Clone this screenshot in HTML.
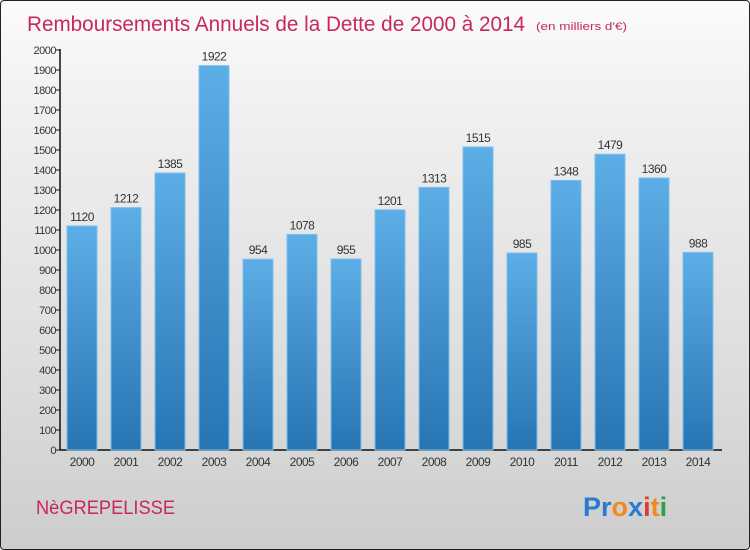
<!DOCTYPE html>
<html><head><meta charset="utf-8"><style>
body{margin:0;width:750px;height:550px;overflow:hidden;font-family:"Liberation Sans",sans-serif}
#wrap{position:absolute;left:0;top:0;width:748px;height:548px;border:1px solid #222;border-radius:4px;background:linear-gradient(#fbfbfb,#f0f0f0 20%,#dcdcdc 70%,#cdcdcd)}
</style></head><body>
<div id="wrap">
<svg width="750" height="550" style="position:absolute;left:-1px;top:-1px">
<defs><linearGradient id="bg" x1="0" y1="0" x2="0" y2="1"><stop offset="0" stop-color="#5dade6"/><stop offset="1" stop-color="#2775b3"/></linearGradient></defs>
<text x="27" y="31" font-size="21" fill="#c8285a" textLength="498" lengthAdjust="spacingAndGlyphs">Remboursements Annuels de la Dette de 2000 à 2014</text>
<text x="536" y="30" font-size="11" fill="#c8285a" textLength="91" lengthAdjust="spacingAndGlyphs">(en milliers d'€)</text>
<g id="axes"></g><g id="bars"></g>
<text x="36" y="514" font-size="19" fill="#c8285a" textLength="139" lengthAdjust="spacingAndGlyphs">NèGREPELISSE</text>
<text x="583" y="516" font-size="27" font-weight="bold"><tspan fill="#2a7ad0">Pr</tspan><tspan fill="#f08a1c">o</tspan><tspan fill="#2a7ad0">x</tspan><tspan fill="#e23b2a">i</tspan><tspan fill="#f08a1c">t</tspan><tspan fill="#2aa04a">i</tspan></text>
</svg></div>
<script>
const years=["2000","2001","2002","2003","2004","2005","2006","2007","2008","2009","2010","2011","2012","2013","2014"];
const values=[1120,1212,1385,1922,954,1078,955,1201,1313,1515,985,1348,1479,1360,988];
const ticks=[0,100,200,300,400,500,600,700,800,900,1000,1100,1200,1300,1400,1500,1600,1700,1800,1900,2000];
const NS="http://www.w3.org/2000/svg";
const x0=60,y0=450,yMax=2000,plotH=400,pitch=44,bw=30;
const y=v=>y0-v/yMax*plotH;
const xb=i=>x0+7+i*pitch;
function mk(t,a,p){const e=document.createElementNS(NS,t);for(const k in a)e.setAttribute(k,a[k]);p.appendChild(e);return e;}
const ax=document.getElementById('axes'),bg=document.getElementById('bars');
let l=mk('line',{x1:x0,y1:y(yMax)-1,x2:x0,y2:y0,stroke:'#111','stroke-width':1.5},ax);


l=mk('line',{x1:x0,y1:y0,x2:722,y2:y0,stroke:'#111','stroke-width':1.5},ax);


ticks.forEach(t=>{
 mk('line',{x1:x0-4,y1:y(t),x2:x0,y2:y(t),stroke:'#111'},ax);
 const tx=mk('text',{x:x0-4,y:y(t)+4,'font-size':11,fill:'#333','text-anchor':'end','letter-spacing':'-0.5'},ax);
 tx.textContent=t;
 
 
});
years.forEach((yr,i)=>{
 const r=mk('rect',{x:xb(i),y:y(values[i]),width:bw,height:y0-y(values[i]),fill:'url(#bg)',stroke:'#7cc0ee','stroke-width':1},bg);
 
 
 const v=mk('text',{x:xb(i)+bw/2,y:y(values[i])-5,'font-size':12,fill:'#333','text-anchor':'middle','letter-spacing':'-0.5'},bg);
 v.textContent=values[i];
 
 
 const t=mk('text',{x:xb(i)+bw/2,y:466,'font-size':12,fill:'#333','text-anchor':'middle','letter-spacing':'-0.5'},bg);
 t.textContent=yr;
 
 
});
</script>
</body></html>
